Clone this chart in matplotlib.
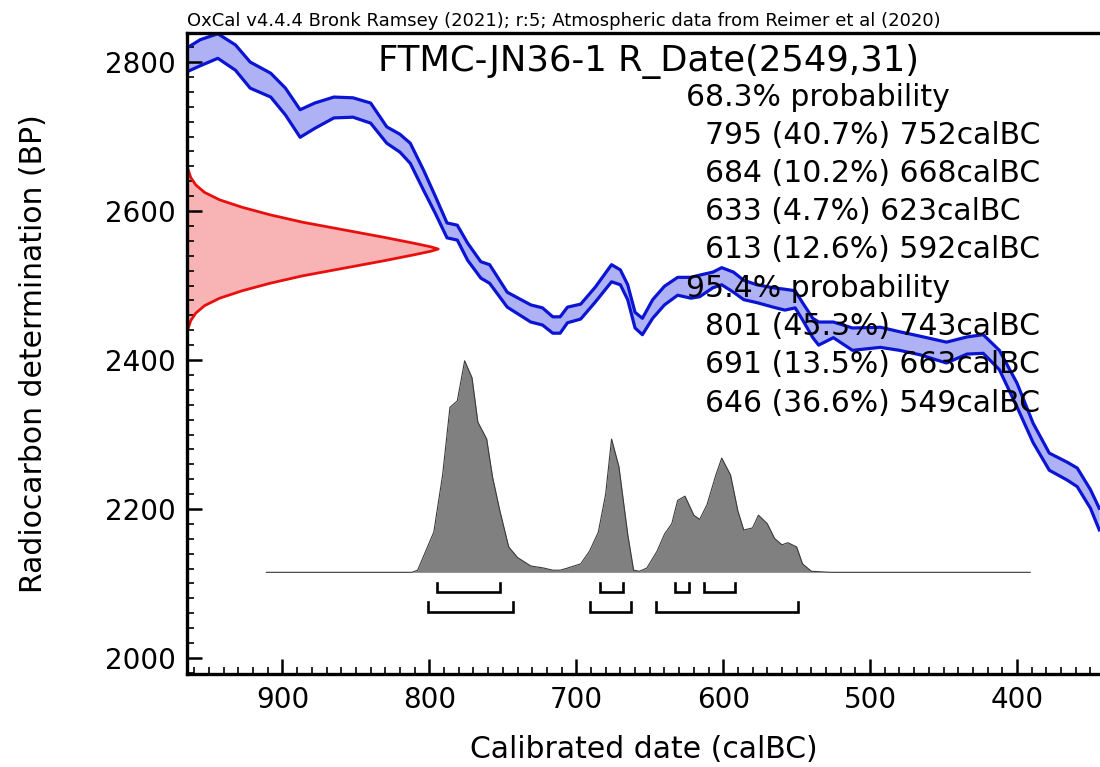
import numpy as np
import matplotlib.pyplot as plt
from matplotlib.ticker import MultipleLocator

# calibration curve band (calBC, BP upper / lower)
cal_years = [965, 956, 944, 932, 922, 908, 898, 888, 878, 865, 852, 840, 829, 820, 813,
             804, 796, 788, 781, 774, 765, 759, 747, 731, 723, 716, 711, 706, 697, 687,
             676, 670, 665, 660, 655, 648, 640, 631, 622, 616, 607, 601, 593, 586, 577,
             566, 558, 551, 546, 539, 535, 525, 512, 493, 480, 466, 448, 434, 423, 412,
             400, 389, 378, 366, 359, 350, 344]
cal_upper = [2819, 2830, 2838, 2823, 2800, 2785, 2765, 2736, 2745, 2753, 2752, 2745, 2713,
             2703, 2691, 2655, 2620, 2584, 2581, 2557, 2532, 2528, 2491, 2474, 2470, 2458,
             2458, 2471, 2475, 2498, 2528, 2521, 2501, 2464, 2456, 2481, 2499, 2511, 2511,
             2514, 2518, 2524, 2518, 2507, 2501, 2497, 2495, 2493, 2477, 2456, 2451, 2451,
             2443, 2444, 2438, 2432, 2424, 2431, 2434, 2413, 2369, 2315, 2275, 2263, 2255,
             2226, 2201]
cal_lower = [2787, 2795, 2805, 2789, 2765, 2753, 2729, 2699, 2711, 2725, 2726, 2718, 2691,
             2679, 2664, 2628, 2597, 2564, 2561, 2534, 2510, 2503, 2471, 2451, 2447, 2436,
             2436, 2450, 2455, 2478, 2505, 2501, 2481, 2443, 2434, 2456, 2474, 2487, 2483,
             2485, 2497, 2501, 2491, 2481, 2477, 2471, 2467, 2470, 2454, 2430, 2420, 2430,
             2413, 2417, 2413, 2407, 2396, 2408, 2409, 2387, 2337, 2289, 2252, 2239, 2230,
             2201, 2172]

# radiocarbon measurement R_Date(2549,31), relative probability
r_bp = [2660, 2645, 2635, 2625, 2615, 2605, 2595, 2585, 2575, 2565, 2557, 2552, 2549,
        2546, 2541, 2533, 2523, 2513, 2503, 2493, 2483, 2473, 2463, 2453, 2438]
r_prob = [0, 0.015, 0.035, 0.07, 0.13, 0.22, 0.33, 0.46, 0.62, 0.78, 0.90, 0.97, 1.0,
          0.97, 0.90, 0.78, 0.62, 0.46, 0.33, 0.22, 0.13, 0.07, 0.035, 0.015, 0]

# calibrated distribution, relative probability
post_years = [911, 812, 808, 797, 791, 786, 781, 776, 771, 767, 761, 757, 752, 746, 740,
              731, 722, 716, 711, 706, 697, 691, 685, 680, 676, 671, 665, 661, 657, 652,
              645, 640, 635, 631, 626, 620, 616, 611, 605, 601, 595, 590, 586, 580, 576,
              570, 565, 560, 556, 550, 546, 540, 527, 391]
post_prob = [0, 0, 0.01, 0.19, 0.46, 0.78, 0.81, 1.0, 0.92, 0.71, 0.63, 0.45, 0.29, 0.12,
             0.07, 0.03, 0.02, 0.01, 0.01, 0.02, 0.04, 0.10, 0.19, 0.37, 0.63, 0.50, 0.18,
             0.01, 0.005, 0.02, 0.10, 0.18, 0.23, 0.34, 0.36, 0.27, 0.25, 0.32, 0.46, 0.54,
             0.46, 0.29, 0.20, 0.21, 0.27, 0.23, 0.16, 0.13, 0.14, 0.12, 0.04, 0.005, 0, 0]

range68 = [(795, 752), (684, 668), (633, 623), (613, 592)]
pct68 = [40.7, 10.2, 4.7, 12.6]
range95 = [(801, 743), (691, 663), (646, 549)]
pct95 = [45.3, 13.5, 36.6]

title = "FTMC-JN36-1 R_Date(2549,31)"
header = "OxCal v4.4.4 Bronk Ramsey (2021); r:5; Atmospheric data from Reimer et al (2020)"

XMIN, XMAX = 965, 343.5
YMIN, YMAX = 1978.5, 2839

fig = plt.figure(figsize=(11, 7.67), dpi=100)
ax = fig.add_axes([187 / 1100, 93 / 767, 913 / 1100, 641 / 767])

# calibration curve
ax.fill_between(cal_years, cal_lower, cal_upper, color='#aeb2f4', lw=0, zorder=1)
ax.plot(cal_years, cal_upper, color='#0a14d2', lw=2.3, zorder=2, solid_joinstyle='round')
ax.plot(cal_years, cal_lower, color='#0a14d2', lw=2.3, zorder=2, solid_joinstyle='round')

# measurement on the y axis
r_x = XMIN - np.array(r_prob) * 171
ax.fill_betweenx(r_bp, XMIN, r_x, color='#f8b4b4', lw=0, zorder=1)
ax.plot(r_x, r_bp, color='#e8100e', lw=2, zorder=2)

# posterior on the x axis
base = 2115
post_y = base + np.array(post_prob) * 284
ax.fill_between(post_years, base, post_y, color='#808080', lw=0, zorder=3)
ax.plot(post_years, post_y, color='#3a3a3a', lw=0.8, zorder=3)

# range brackets
def bracket(lo, hi, y, h):
    ax.plot([lo, lo, hi, hi], [y + h, y, y, y + h], color='black', lw=1.9,
            solid_joinstyle='miter', zorder=4)

for a, b in range68:
    bracket(a, b, 2089, 12)
for a, b in range95:
    bracket(a, b, 2062, 13)

ax.set_xlim(XMIN, XMAX)
ax.set_ylim(YMIN, YMAX)

ax.xaxis.set_major_locator(MultipleLocator(100))
ax.xaxis.set_minor_locator(MultipleLocator(10))
ax.yaxis.set_major_locator(MultipleLocator(200))
ax.yaxis.set_minor_locator(MultipleLocator(20))
ax.tick_params(which='major', direction='in', length=11, width=1.8, labelsize=20, pad=8)
ax.tick_params(which='minor', direction='in', length=5, width=1.2)
ax.tick_params(axis='x', which='major', pad=9)

for s in ['left', 'bottom', 'top']:
    ax.spines[s].set_linewidth(2.4)
ax.spines['right'].set_visible(False)

ax.set_xlabel('Calibrated date (calBC)', fontsize=21.5, labelpad=15)
ax.set_ylabel('Radiocarbon determination (BP)', fontsize=21.5, labelpad=41)

# texts
ax.text(0.505, 0.955, title, transform=ax.transAxes, ha='center', va='center',
        fontsize=25.5, zorder=5)
fig.text(187 / 1100, 1 - 21 / 767, header, ha='left', va='center', fontsize=13)

lines = [("68.3% probability", 0)]
for (a, b), p in zip(range68, pct68):
    lines.append((f"{a} ({p}%) {b}calBC", 1))
lines.append(("95.4% probability", 0))
for (a, b), p in zip(range95, pct95):
    lines.append((f"{a} ({p}%) {b}calBC", 1))

for i, (txt, indent) in enumerate(lines):
    py = 97 + 38.25 * i
    x = (686 - 187) / 913 if indent == 0 else (705 - 187) / 913
    ax.text(x, (674 - py) / 641, txt, transform=ax.transAxes, ha='left', va='center',
            fontsize=21.5, zorder=5)

fig.savefig('out.png', dpi=100)
